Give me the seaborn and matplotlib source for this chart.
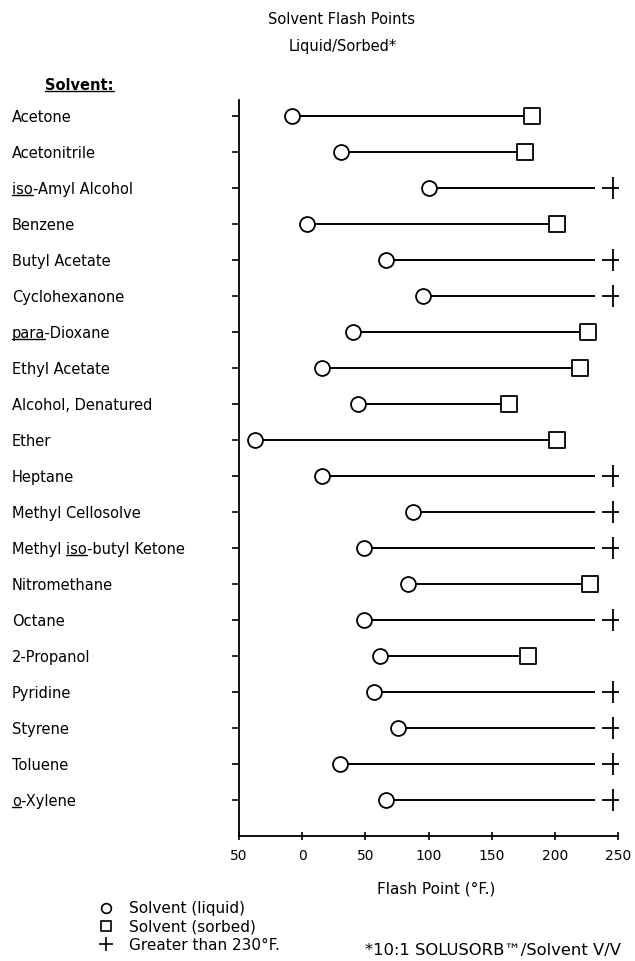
import matplotlib
matplotlib.use("Agg")
import matplotlib.pyplot as plt
import seaborn as sns
import pandas as pd
from matplotlib.lines import Line2D
from matplotlib.transforms import IdentityTransform

# data (deg F)
solvents = [
    "Acetone", "Acetonitrile", "iso-Amyl Alcohol", "Benzene", "Butyl Acetate",
    "Cyclohexanone", "para-Dioxane", "Ethyl Acetate", "Alcohol, Denatured", "Ether",
    "Heptane", "Methyl Cellosolve", "Methyl iso-butyl Ketone", "Nitromethane", "Octane",
    "2-Propanol", "Pyridine", "Styrene", "Toluene", "o-Xylene",
]
liquid = [-8, 31, 100, 4, 66, 96, 40, 16, 44, -37,
          16, 88, 49, 84, 49, 62, 57, 76, 30, 66]
sorbed = [182, 176, None, 202, None, None, 226, 220, 164, 202,
          None, None, None, 228, None, 179, None, None, None, None]
# rows where sorbed flash point is greater than 230 F
gt230 = [s is None for s in sorbed]

GT_LINE_END = 232   # line runs to here for the ">230" rows
GT_MARK = 246       # where the "+" is drawn

# underlined parts of the labels: label -> (text before, underlined text)
underline = {
    "iso-Amyl Alcohol": ("", "iso"),
    "para-Dioxane": ("", "para"),
    "Methyl iso-butyl Ketone": ("Methyl ", "iso"),
    "o-Xylene": ("", "o"),
}

df = pd.DataFrame({"solvent": solvents, "liquid": liquid, "sorbed": sorbed, "gt": gt230})
df["end"] = [GT_LINE_END if g else s for s, g in zip(df["sorbed"], df["gt"])]
df["plus"] = GT_MARK

sns.set_style("ticks")
plt.rcParams["font.family"] = ["DejaVu Sans"]
for k in ["text.color", "axes.labelcolor", "xtick.color", "ytick.color"]:
    plt.rcParams[k] = "black"
FS = 10.5

fig = plt.figure(figsize=(6.35, 9.61), dpi=100)
W, H = 635, 961
ax = fig.add_axes([239 / W, 1 - 836 / H, (618 - 239) / W, (836 - 100) / H])

sns.scatterplot(data=df, x="liquid", y="solvent", marker="o", s=115,
                facecolor="white", edgecolor="black", linewidth=1.3,
                zorder=4, legend=False, ax=ax)
ax.hlines(df["solvent"], df["liquid"], df["end"], color="black", lw=1.4, zorder=2)
sns.scatterplot(data=df[~df["gt"]], x="sorbed", y="solvent", marker="s", s=140,
                facecolor="white", edgecolor="black", linewidth=1.3,
                zorder=4, legend=False, ax=ax)
sns.scatterplot(data=df[df["gt"]], x="plus", y="solvent", marker="+", s=260,
                color="black", linewidth=1.3, zorder=4, legend=False, ax=ax)

ax.set_xlim(-50, 250)
ax.set_ylim(len(solvents) - 1 + 1.0, -0.45)
ax.set_xticks([-50, 0, 50, 100, 150, 200, 250])
ax.set_xticklabels(["50", "0", "50", "100", "150", "200", "250"], fontsize=10)
ax.set_xlabel("Flash Point (°F.)", fontsize=11, labelpad=20)
ax.xaxis.set_label_coords(0.52, -0.062)
ax.set_ylabel("")
sns.despine(ax=ax)
for sp in ax.spines.values():
    sp.set_linewidth(1.3)
    sp.set_color("black")

ax.tick_params(axis="x", direction="inout", length=6, width=1.2, pad=6)
tick_len = 5
ax.tick_params(axis="y", direction="out", length=tick_len, width=1.2,
               labelsize=FS, pad=(239 - 12) * 0.72 - tick_len)
for lab in ax.get_yticklabels():
    lab.set_horizontalalignment("left")

fig.text(342 / W, 1 - 20 / H, "Solvent Flash Points", ha="center", va="center", fontsize=FS)
fig.text(343 / W, 1 - 47 / H, "Liquid/Sorbed*", ha="center", va="center", fontsize=FS)
head = fig.text(45 / W, 1 - 85 / H, "Solvent:", ha="left", va="center",
                fontsize=FS, fontweight="bold")

fig.text(365 / W, 1 - 950 / H, "*10:1 SOLUSORB™/Solvent V/V", ha="left",
         va="center", fontsize=11.8)

handles = [
    Line2D([], [], ls="", marker="o", ms=7, mfc="white", mec="black", mew=1.2),
    Line2D([], [], ls="", marker="s", ms=7, mfc="white", mec="black", mew=1.2),
    Line2D([], [], ls="", marker="+", ms=10, color="black", mew=1.2),
]
labels = ["Solvent (liquid)", "Solvent (sorbed)", "Greater than 230°F."]
fig.legend(handles, labels, loc="upper left", bbox_to_anchor=(98 / W, 1 - 901 / H),
           frameon=False, fontsize=11, labelspacing=0.22, handletextpad=1.0,
           handlelength=1.0, borderpad=0, borderaxespad=0)

# underline label prefixes
fig.canvas.draw()
r = fig.canvas.get_renderer()


def text_width(s, **kw):
    t = fig.text(0, 0, s, fontsize=FS, **kw)
    w = t.get_window_extent(r).width
    t.remove()
    return w


def draw_underline(x0, x1, y):
    fig.add_artist(Line2D([x0, x1], [y, y], transform=IdentityTransform(),
                          color="black", lw=1.0))


for lab in ax.get_yticklabels():
    key = lab.get_text()
    if key in underline:
        before, part = underline[key]
        bb = lab.get_window_extent(r)
        x1 = text_width(before + part)
        x0 = x1 - text_width(part)
        draw_underline(bb.x0 + x0, bb.x0 + x1, bb.y0 + 2)

bb = head.get_window_extent(r)
draw_underline(bb.x0, bb.x1, bb.y0 + 1.5)

fig.savefig("out.png", dpi=100)
